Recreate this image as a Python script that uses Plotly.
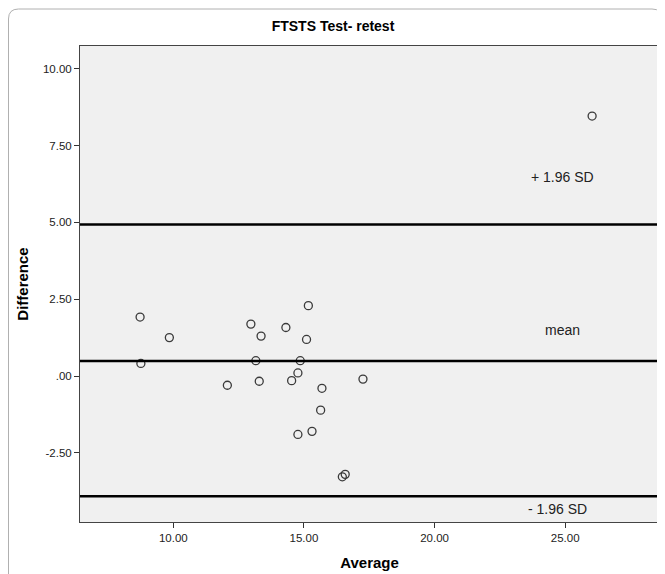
import plotly.graph_objects as go

# Data
average = [8.73, 9.85, 8.76, 12.97, 12.07, 13.36, 15.17, 14.31, 15.10, 13.16,
           14.86, 14.77, 13.29, 14.53, 15.69, 17.26, 15.64, 15.31, 14.77,
           16.47, 16.58, 26.03]
difference = [1.92, 1.25, 0.41, 1.69, -0.30, 1.30, 2.29, 1.58, 1.19, 0.50,
              0.50, 0.10, -0.17, -0.15, -0.40, -0.10, -1.11, -1.80, -1.90,
              -3.28, -3.20, 8.46]

mean_diff = 0.49
upper_loa = 4.93
lower_loa = -3.91

x_tickvals = [10, 15, 20, 25]
x_ticktext = ["10.00", "15.00", "20.00", "25.00"]
y_tickvals = [-2.5, 0, 2.5, 5, 7.5, 10]
y_ticktext = ["-2.50", ".00", "2.50", "5.00", "7.50", "10.00"]

line_labels = ["+ 1.96 SD", "mean", "- 1.96 SD"]
label_x = [24.88, 24.88, 24.7]
label_y = [6.48, 1.50, -4.33]

FONT = "Liberation Sans, Arial, sans-serif"

# page body has an 8px margin; figure is sized to compensate
W, H = 657, 566

fig = go.Figure()
fig.add_trace(go.Scatter(
    x=average, y=difference, mode="markers",
    marker=dict(symbol="circle-open", size=8, color="#3a3a3a",
                line=dict(width=1.3, color="#3a3a3a")),
    showlegend=False, hoverinfo="x+y"))

for val in [upper_loa, mean_diff, lower_loa]:
    fig.add_shape(type="line", xref="paper", x0=0, x1=1, yref="y", y0=val, y1=val,
                  line=dict(color="black", width=2.5))

for txt, lx, ly in zip(line_labels, label_x, label_y):
    fig.add_annotation(x=lx, y=ly, text=txt, showarrow=False,
                       font=dict(family=FONT, size=14, color="#222"))

# outer rounded frame
px0, py0 = -0.1235, 1.0777
px1 = 1.0052
rx, ry = 0.0173, 0.021
path = (f"M {px0},-0.2 L {px0},{py0-ry} Q {px0},{py0} {px0+rx},{py0} "
        f"L {px1-rx},{py0} Q {px1},{py0} {px1},{py0-ry} L {px1},-0.2")
fig.add_shape(type="path", xref="paper", yref="paper", path=path,
              line=dict(color="#b0b0b0", width=1), layer="below")

tickfont = dict(family=FONT, size=11.5, color="#222")

fig.update_layout(
    width=W, height=H,
    margin=dict(l=72, r=6, t=38, b=52),
    paper_bgcolor="white", plot_bgcolor="#f0f0f0",
    font=dict(family=FONT, size=11.5, color="#222"),
    title=dict(text="<b>FTSTS Test- retest</b>", x=(333 - 8) / W, xref="container",
               xanchor="center",
               y=1 - 18 / H, yanchor="middle",
               font=dict(family=FONT, size=14, color="black")),
    xaxis=dict(range=[6.43, 28.59], tickvals=x_tickvals, ticktext=x_ticktext,
               tickfont=tickfont,
               ticks="outside", ticklen=5, tickcolor="#333", showgrid=False,
               zeroline=False, showline=True, linecolor="#444", linewidth=1,
               mirror=True,
               title=dict(text="<b>Average</b>", standoff=14,
                          font=dict(family=FONT, size=15, color="black"))),
    yaxis=dict(range=[-4.75, 10.74], tickvals=y_tickvals, ticktext=y_ticktext,
               tickfont=tickfont,
               ticks="outside", ticklen=5, tickcolor="#333", showgrid=False,
               zeroline=False, showline=True, linecolor="#444", linewidth=1,
               mirror=True,
               title=dict(text="<b>Difference</b>", standoff=10,
                          font=dict(family=FONT, size=15, color="black"))),
)

fig.write_html("out.html")
